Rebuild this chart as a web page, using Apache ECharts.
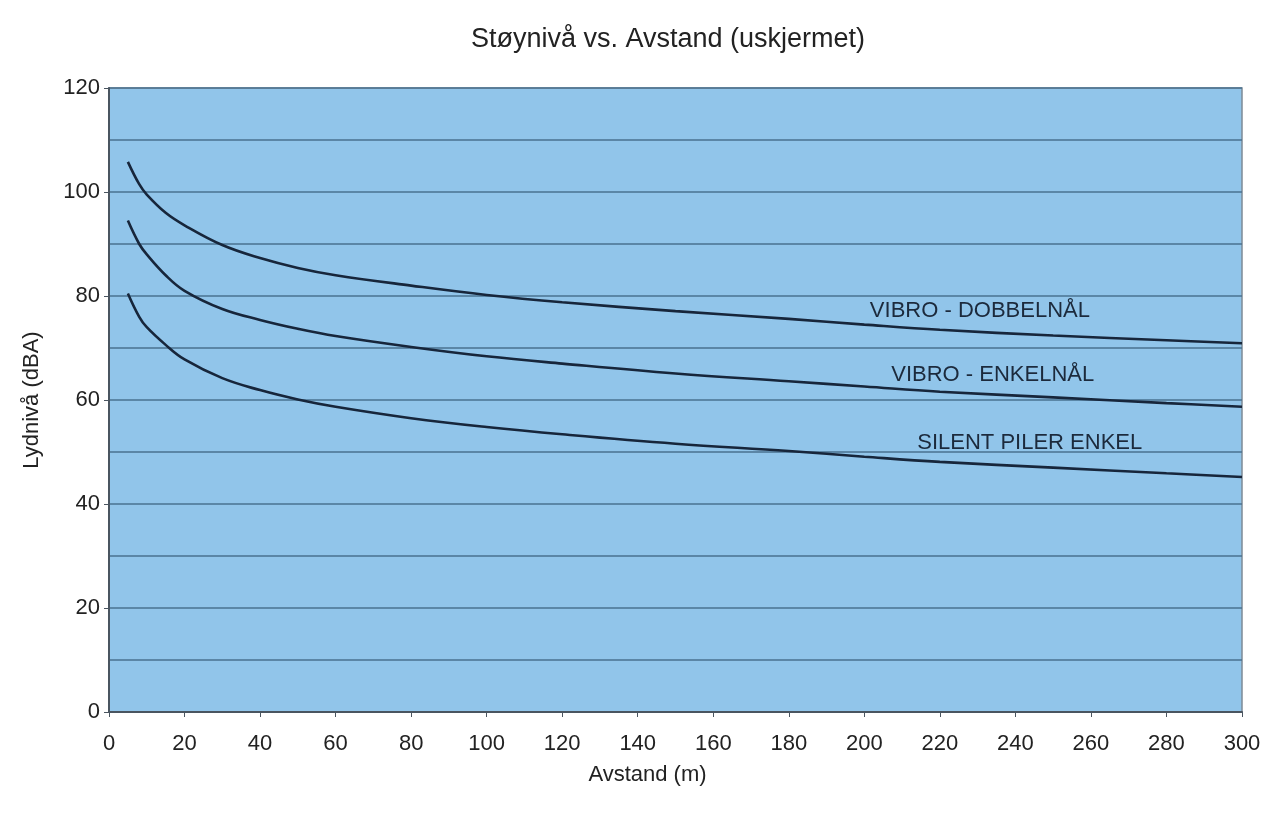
<!DOCTYPE html>
<html>
<head>
<meta charset="utf-8">
<script src="https://cdn.jsdelivr.net/npm/echarts@6/dist/echarts.min.js"></script>
<style>
html,body{margin:0;padding:0;background:#fff;}
#c{width:1287px;height:814px;}
</style>
</head>
<body>
<div id="c"></div>
<script>
// Distances (m)
const distances = [5, 8, 10, 15, 20, 30, 40, 50, 60, 80, 100, 120, 150, 180, 200, 220, 250, 280, 300];
// Sound levels (dBA)
const vibroDobbel = [105.8, 101.5, 99.5, 96.0, 93.6, 89.8, 87.3, 85.4, 84.0, 82.0, 80.2, 78.8, 77.1, 75.6, 74.5, 73.5, 72.4, 71.5, 70.9];
const vibroEnkel  = [94.5, 90.0, 88.0, 84.0, 81.0, 77.5, 75.4, 73.7, 72.3, 70.2, 68.4, 67.0, 65.1, 63.6, 62.6, 61.6, 60.5, 59.4, 58.7];
const silentPiler = [80.5, 76.0, 74.0, 70.6, 67.8, 64.2, 61.9, 60.1, 58.7, 56.5, 54.8, 53.4, 51.6, 50.2, 49.1, 48.1, 47.0, 45.9, 45.2];
const seriesNames = ['VIBRO - DOBBELNÅL', 'VIBRO - ENKELNÅL', 'SILENT PILER ENKEL'];
// label anchor points (data coordinates: [distance, dBA])
const labelAnchors = [[230.6, 77.1], [234.0, 64.8], [243.8, 51.7]];

const xTicks = {min: 0, max: 300, interval: 20};
const yTicks = {min: 0, max: 120, interval: 20};

const FONT = 'Liberation Sans, Arial, sans-serif';
const chart = echarts.init(document.getElementById('c'), null, {renderer: 'canvas'});
const lineColor = '#17263b';
const allSeries = [vibroDobbel, vibroEnkel, silentPiler].map((vals, i) => ({
  name: seriesNames[i],
  type: 'line',
  smooth: 0.4,
  showSymbol: false,
  symbol: 'none',
  data: distances.map((d, j) => [d, vals[j]]),
  lineStyle: {color: lineColor, width: 2.6},
  markPoint: {
    symbol: 'circle', symbolSize: 0,
    data: [{coord: labelAnchors[i], value: seriesNames[i]}],
    label: {show: true, position: 'inside', formatter: seriesNames[i], color: '#1c2a3c',
            fontFamily: FONT, fontSize: 22}
  }
}));

chart.setOption({
  animation: false,
  backgroundColor: '#ffffff',
  title: {
    text: 'Støynivå vs. Avstand (uskjermet)',
    left: 663, top: 21, textAlign: 'center',
    textStyle: {fontFamily: FONT, fontSize: 27, fontWeight: 'normal', color: '#222'}
  },
  grid: {
    left: 109, right: 45, top: 88, bottom: 102,
    show: true, backgroundColor: '#91c5ea', borderColor: '#7d8a96', borderWidth: 1.5
  },
  xAxis: {
    type: 'value', min: xTicks.min, max: xTicks.max, interval: xTicks.interval,
    name: 'Avstand (m)', nameLocation: 'middle', nameGap: 52,
    nameTextStyle: {fontFamily: FONT, fontSize: 22, color: '#222', padding: [0, 56, 0, 0]},
    axisLine: {show: true, lineStyle: {color: '#4a5560', width: 2}},
    axisTick: {show: true, inside: false, length: 5, lineStyle: {color: '#4a5560'}},
    axisLabel: {fontFamily: FONT, fontSize: 22, color: '#222', margin: 21},
    splitLine: {show: false}
  },
  yAxis: {
    type: 'value', min: yTicks.min, max: yTicks.max, interval: yTicks.interval,
    name: 'Lydnivå (dBA)', nameLocation: 'middle', nameGap: 66, nameRotate: 90,
    nameTextStyle: {fontFamily: FONT, fontSize: 22, color: '#222'},
    axisLine: {show: true, lineStyle: {color: '#4a5560', width: 2}},
    axisTick: {show: true, length: 5, lineStyle: {color: '#4a5560'}},
    axisLabel: {fontFamily: FONT, fontSize: 22, color: '#222', margin: 9},
    splitLine: {show: true, lineStyle: {color: '#4a7290', width: 1.5}},
    minorTick: {show: false, splitNumber: 2},
    minorSplitLine: {show: true, lineStyle: {color: '#4a7290', width: 1.5}}
  },
  series: allSeries
});
</script>
</body>
</html>
